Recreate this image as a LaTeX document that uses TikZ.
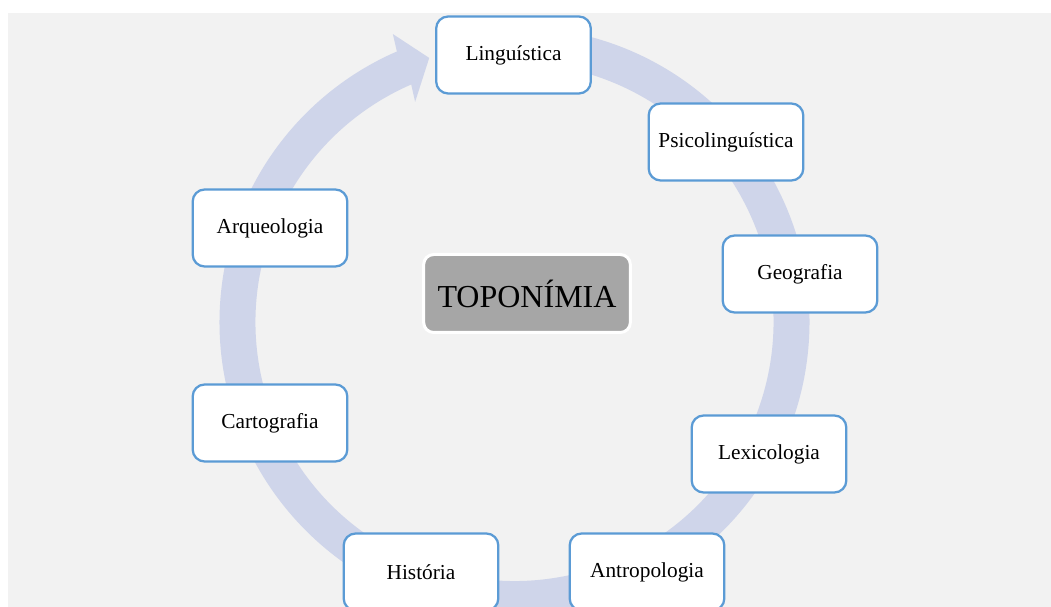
\documentclass[tikz,border=0pt]{standalone}
\usepackage{fontspec}
\setmainfont{Liberation Serif}
\definecolor{ringblue}{HTML}{CFD5EA}
\definecolor{panelgray}{HTML}{F2F2F2}
\definecolor{boxblue}{HTML}{5B9BD5}
\definecolor{coregray}{HTML}{A6A6A6}
\tikzset{
  field/.style={draw=boxblue, line width=1.7pt, fill=white, rounded corners=9pt,
    minimum width=116pt, minimum height=57.75pt, inner sep=0pt,
    font=\fontsize{16}{19}\selectfont},
  core/.style={draw=white, line width=2.25pt, fill=coregray, rounded corners=7.5pt,
    minimum width=155pt, minimum height=58.5pt, inner sep=0pt,
    font=\fontsize{24}{28}\selectfont}
}
\begin{document}
\begin{tikzpicture}[x=0.75pt,y=0.75pt]
\useasboundingbox (0,0) rectangle (1051,607);
\fill[white] (0,0) rectangle (1051,607);
\fill[panelgray] (8,0) rectangle (1051,594);
\begin{scope}[shift={(514.5,285)}]
\fill[ringblue] (85:295) arc[start angle=85, end angle=-246.5, radius=295]
  -- (-247.1:312.6) -- (-252.1:277.5) -- (-245.7:241.5) -- (-246.5:259)
  arc[start angle=-246.5, end angle=85, radius=259] -- cycle;
\end{scope}
\node[field] (ling) at (513.5,552) {Linguística};
\node[field] (psico) at (726,465) {Psicolinguística};
\node[field] (geo) at (800,333) {Geografia};
\node[field] (lexi) at (769,153) {Lexicologia};
\node[field] (antro) at (647,35) {Antropologia};
\node[field] (hist) at (421,35) {História};
\node[field] (carto) at (270,184) {Cartografia};
\node[field] (arqueo) at (270,379) {Arqueologia};
\node[core] (topo) at (527,313.5) {TOPONÍMIA};
\end{tikzpicture}
\end{document}
